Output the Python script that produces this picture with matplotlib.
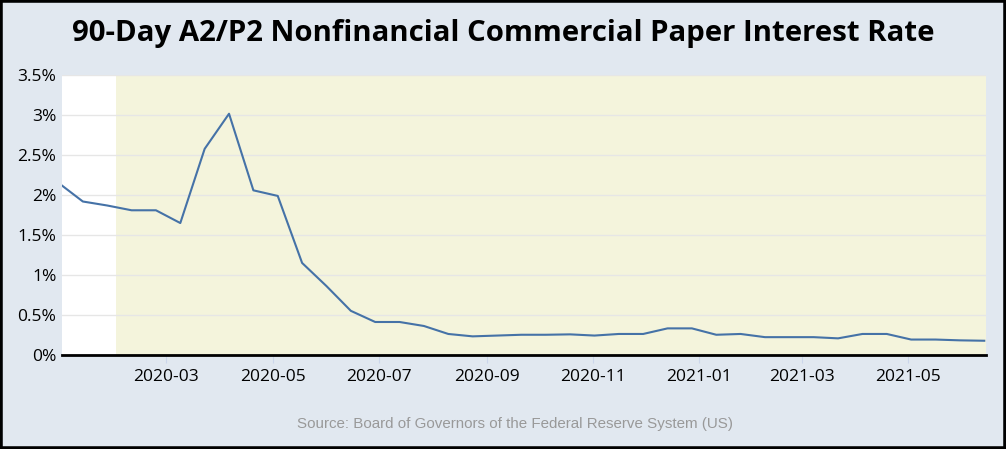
"""90-day A2/P2 nonfinancial commercial paper rate, FRED style."""
import matplotlib
matplotlib.use('Agg')
import matplotlib.pyplot as plt
import matplotlib.dates as mdates
import numpy as np
import pandas as pd
from matplotlib.patches import Rectangle

plt.rcParams['font.family'] = ['Open Sans', 'DejaVu Sans']

dates = pd.to_datetime([
    "2020-01-01", "2020-01-13", "2020-01-27", "2020-02-10", "2020-02-24",
    "2020-03-09", "2020-03-23", "2020-04-06", "2020-04-20", "2020-05-04",
    "2020-05-18", "2020-06-01", "2020-06-15", "2020-06-29", "2020-07-13",
    "2020-07-27", "2020-08-10", "2020-08-24", "2020-09-07", "2020-09-21",
    "2020-10-05", "2020-10-19", "2020-11-02", "2020-11-16", "2020-11-30",
    "2020-12-14", "2020-12-28", "2021-01-11", "2021-01-25", "2021-02-08",
    "2021-02-22", "2021-03-08", "2021-03-22", "2021-04-05", "2021-04-19",
    "2021-05-03", "2021-05-17", "2021-05-31", "2021-06-14",
])
rate = [
    2.12, 1.92, 1.87, 1.81, 1.81,
    1.65, 2.58, 3.02, 2.06, 1.99,
    1.15, 0.86, 0.55, 0.41, 0.41,
    0.36, 0.26, 0.23, 0.24, 0.25,
    0.25, 0.255, 0.24, 0.26, 0.26,
    0.33, 0.33, 0.25, 0.26, 0.22,
    0.22, 0.22, 0.205, 0.26, 0.26,
    0.19, 0.19, 0.18, 0.175,
]
recession_start = pd.Timestamp("2020-02-01")
x_start = pd.Timestamp("2020-01-01")
x_end = pd.Timestamp("2021-06-15")
tick_dates = pd.date_range("2020-03-01", "2021-05-01", freq="2MS")
y_ticks = [0, 0.5, 1, 1.5, 2, 2.5, 3, 3.5]
y_labels = ["0%", "0.5%", "1%", "1.5%", "2%", "2.5%", "3%", "3.5%"]

BG = '#e1e8f0'
fig = plt.figure(figsize=(10.06, 4.49), dpi=100, facecolor=BG)
ax = fig.add_axes([0.0616, 0.210, 0.9185, 0.622])
ax.set_facecolor('white')

ax.axvspan(recession_start, x_end, color='#f4f4dc', zorder=0, lw=0)
ax.plot(dates, rate, color='#4572a7', lw=1.5, zorder=3)

ax.set_xlim(x_start, x_end)
ax.set_ylim(0, 3.5)
ax.set_yticks(y_ticks)
ax.set_yticklabels(y_labels)
ax.set_xticks(tick_dates)
ax.xaxis.set_major_formatter(mdates.DateFormatter('%Y-%m'))
ax.grid(axis='y', color='#e6e6e6', lw=1, zorder=1)
ax.set_axisbelow(True)
for s in ['top', 'right', 'left']:
    ax.spines[s].set_visible(False)
ax.spines['bottom'].set_color('black')
ax.spines['bottom'].set_linewidth(2)
ax.spines['bottom'].set_zorder(4)
ax.tick_params(axis='y', length=0, labelsize=12.5, pad=4)
ax.tick_params(axis='x', length=6, color='#ccd6eb', labelsize=12.5, pad=4)

fig.text(0.5, 0.925, "90-Day A2/P2 Nonfinancial Commercial Paper Interest Rate",
         ha='center', va='center', fontsize=21.2, fontweight='bold')
fig.text(0.512, 0.055, "Source: Board of Governors of the Federal Reserve System (US)",
         ha='center', va='center', fontsize=10.9, color='#999999',
         family=['Liberation Sans', 'DejaVu Sans'])

fig.patches.append(Rectangle((0, 0), 1, 1, transform=fig.transFigure,
                             fill=False, edgecolor='black', lw=4))

fig.savefig("out.png", dpi=100, facecolor=BG)
